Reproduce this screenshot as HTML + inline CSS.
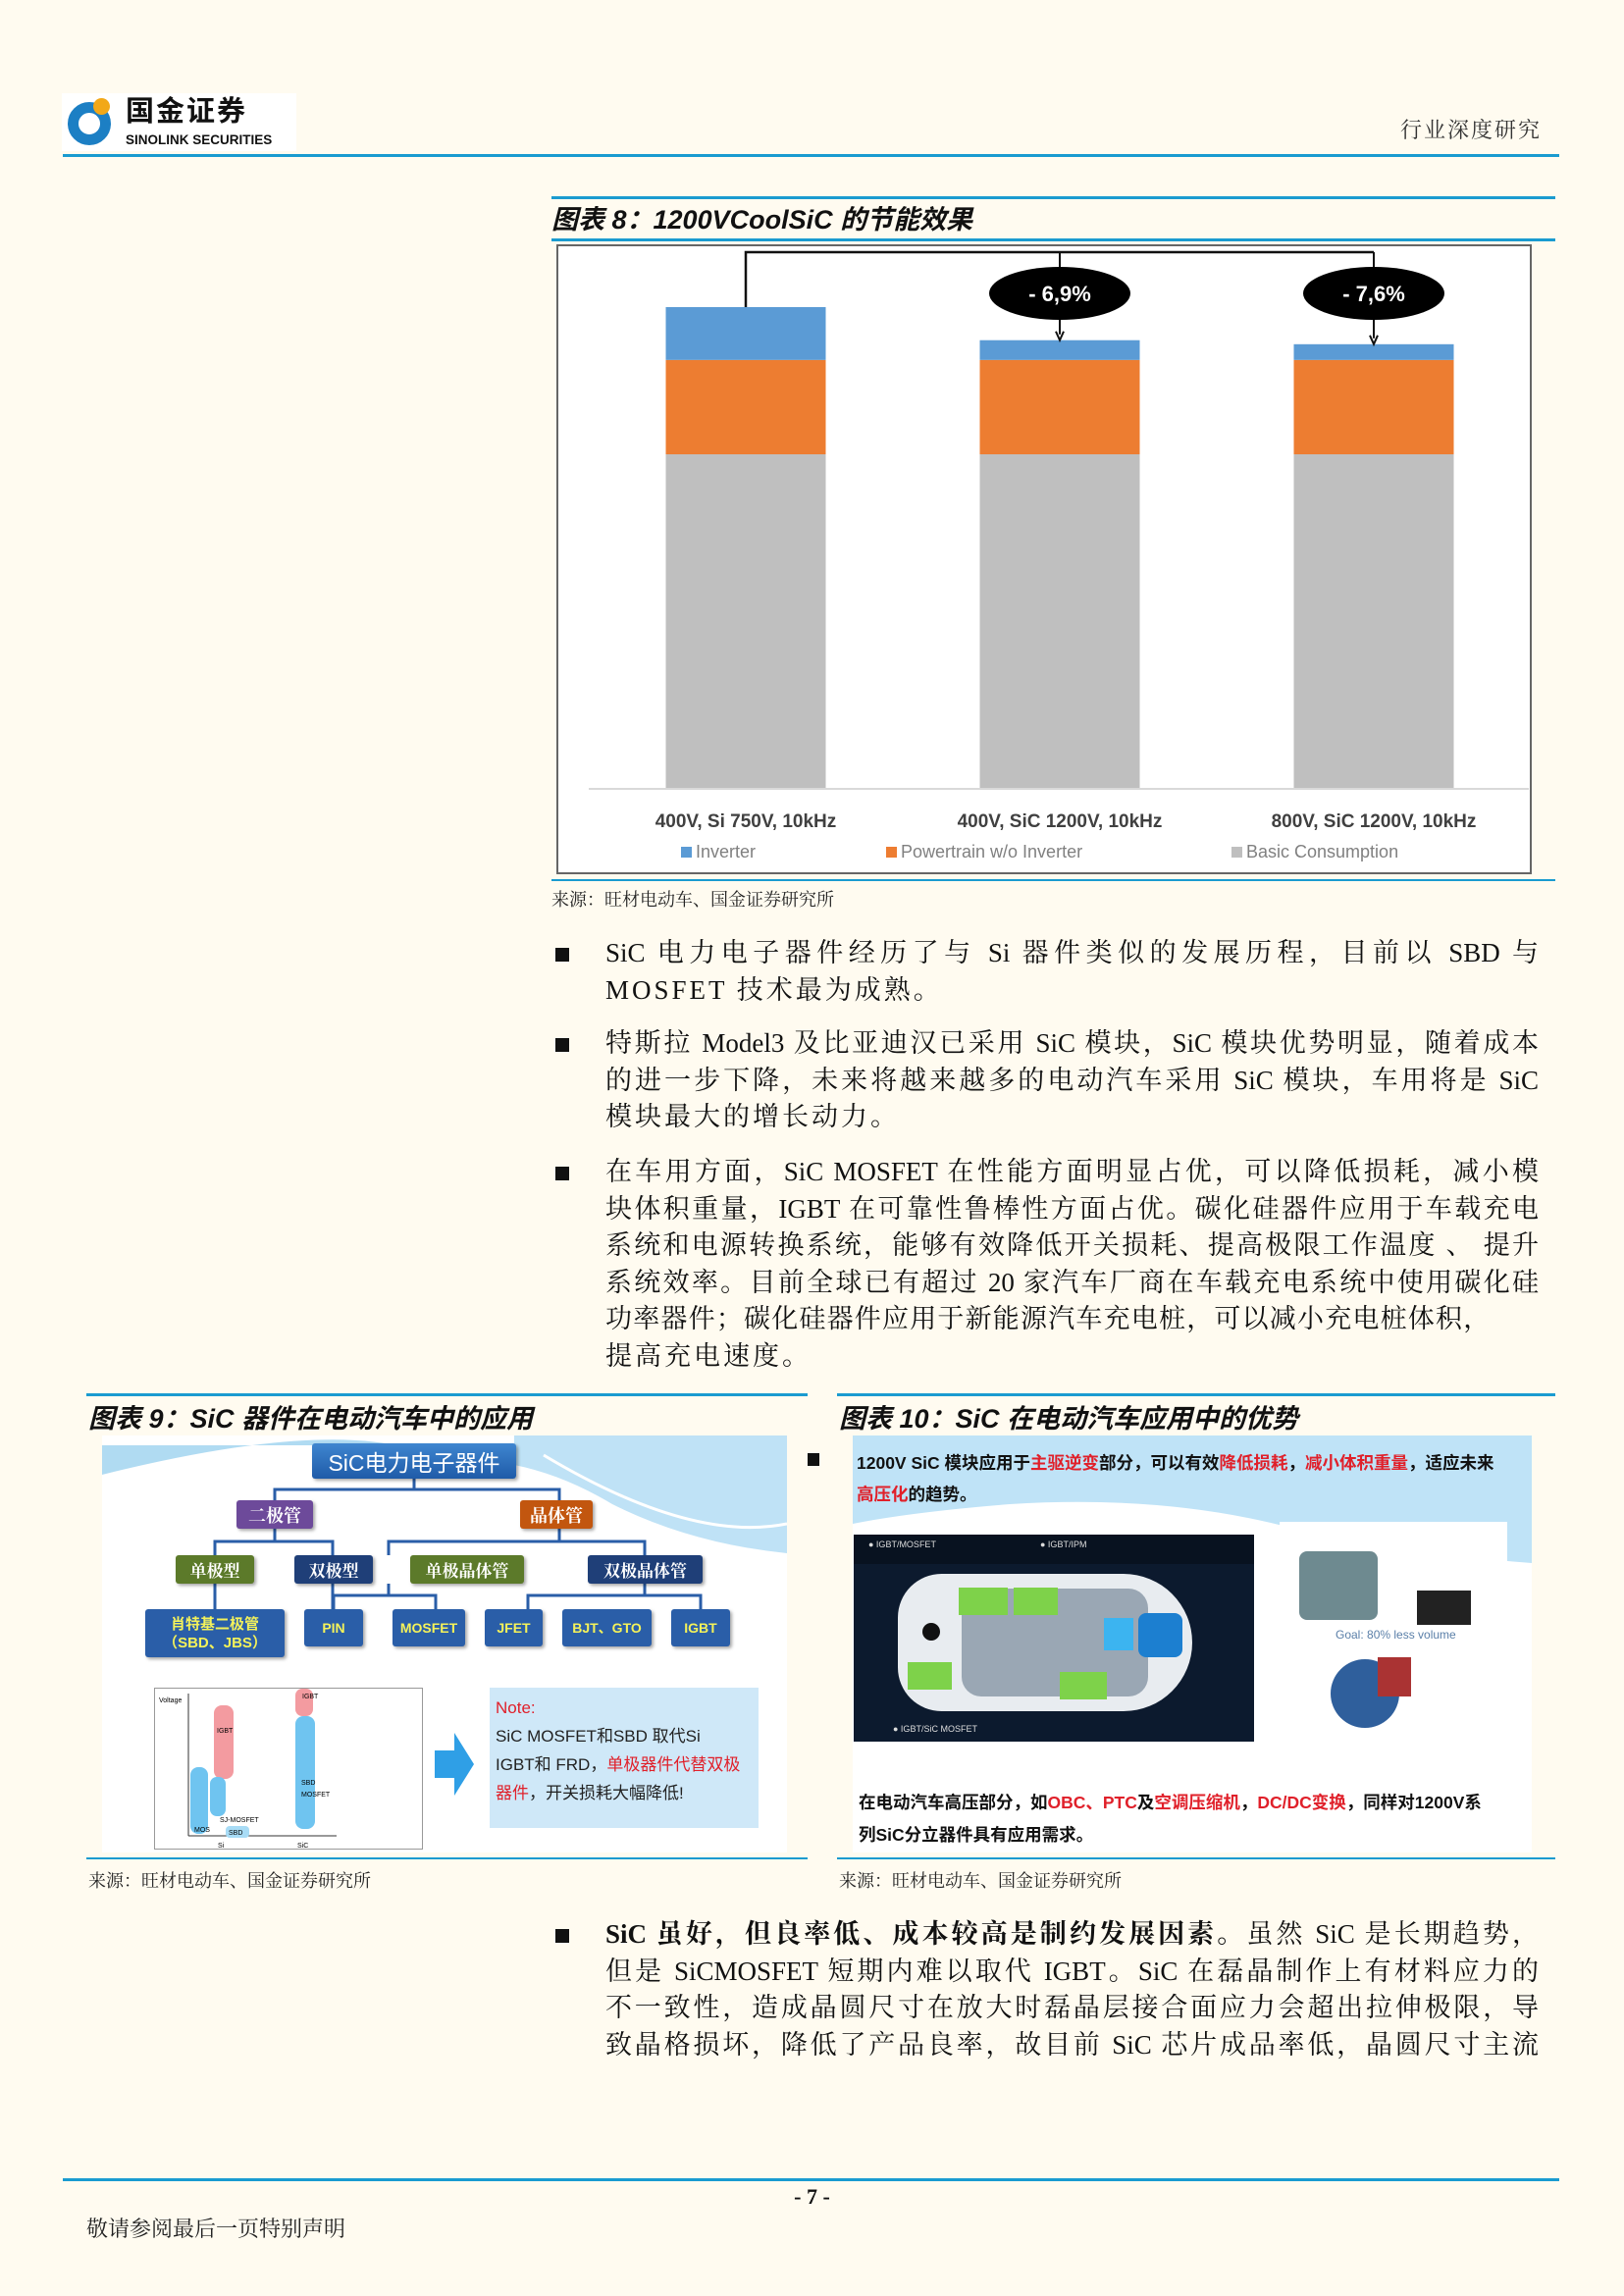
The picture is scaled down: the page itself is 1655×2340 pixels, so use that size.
<!DOCTYPE html>
<html><head><meta charset="utf-8">
<style>
*{margin:0;padding:0;box-sizing:border-box}
body{width:1655px;height:2340px;background:#fffbf0;position:relative;overflow:hidden;font-family:"Liberation Serif","Noto Serif CJK SC",serif;color:#111}
.abs{position:absolute}
.hl{position:absolute;height:3px;background:#1a9bd0}
.ttl{position:absolute;font-family:"Liberation Sans","Noto Sans CJK SC",sans-serif;font-weight:bold;font-style:italic;font-size:27px;color:#111;white-space:nowrap}
.src{position:absolute;font-size:18px;font-family:"Liberation Serif","Noto Serif CJK SC",serif;color:#222;white-space:nowrap}
.para{position:absolute;left:617px;width:951px;font-size:27px;line-height:37.6px}
.para .ln{display:block;height:37.6px;white-space:nowrap;text-align:justify;text-align-last:justify;text-justify:inter-character}
.para .ln.last{text-align:left;text-align-last:left;letter-spacing:3px}
.bul{position:absolute;left:566px;width:14px;height:14px;background:#111}
.box{position:absolute;color:#fff;font-family:"Liberation Sans","Noto Sans CJK SC",sans-serif;font-weight:bold;display:flex;align-items:center;justify-content:center;text-align:center;border-radius:3px;box-shadow:2px 2px 3px rgba(0,0,0,.35)}
</style></head><body>

<div class="abs" style="left:63px;top:95px;width:239px;height:59px;background:#fff">
  <div class="abs" style="left:6px;top:9px;width:44px;height:44px;border-radius:50%;border:11px solid #1c7fc4"></div>
  <div class="abs" style="left:32px;top:5px;width:17px;height:17px;border-radius:50%;background:#f2a818"></div>
  <div class="abs" style="left:65px;top:2px;font-family:'Liberation Sans','Noto Sans CJK SC',sans-serif;font-weight:bold;font-size:29px;letter-spacing:2px;color:#111;line-height:34px">国金证券</div>
  <div class="abs" style="left:65px;top:40px;font-family:'Liberation Sans',sans-serif;font-weight:bold;font-size:13.5px;color:#111;white-space:nowrap">SINOLINK SECURITIES</div>
</div>
<div class="abs" style="right:84px;top:116px;font-size:22px;color:#333;letter-spacing:2px">行业深度研究</div>
<div class="hl" style="left:64px;top:157px;width:1525px"></div>

<!-- Figure 8 -->
<div class="hl" style="left:562px;top:200px;width:1023px"></div>
<div class="ttl" style="left:562px;top:202px">图表 8：1200VCoolSiC 的节能效果</div>
<div class="hl" style="left:562px;top:243px;width:1023px"></div>
<svg class="abs" style="left:0;top:0" width="1655" height="900" id="chart"></svg>
<div class="hl" style="left:562px;top:896px;width:1023px;height:2px"></div>
<div class="src" style="left:562px;top:903px">来源：旺材电动车、国金证券研究所</div>

<!-- paragraphs -->
<div class="bul" style="top:966px"></div>
<div class="para" style="top:953px"><span class="ln">SiC 电力电子器件经历了与 Si 器件类似的发展历程，目前以 SBD 与</span><span class="ln last">MOSFET 技术最为成熟。</span></div>
<div class="bul" style="top:1058px"></div>
<div class="para" style="top:1045px"><span class="ln">特斯拉 Model3 及比亚迪汉已采用 SiC 模块，SiC 模块优势明显，随着成本</span><span class="ln">的进一步下降，未来将越来越多的电动汽车采用 SiC 模块，车用将是 SiC</span><span class="ln last">模块最大的增长动力。</span></div>
<div class="bul" style="top:1189px"></div>
<div class="para" style="top:1176px"><span class="ln">在车用方面，SiC MOSFET 在性能方面明显占优，可以降低损耗，减小模</span><span class="ln">块体积重量，IGBT 在可靠性鲁棒性方面占优。碳化硅器件应用于车载充电</span><span class="ln">系统和电源转换系统，能够有效降低开关损耗、提高极限工作温度 、 提升</span><span class="ln">系统效率。目前全球已有超过 20 家汽车厂商在车载充电系统中使用碳化硅</span><span class="ln last" style="letter-spacing:1.2px">功率器件；碳化硅器件应用于新能源汽车充电桩，可以减小充电桩体积，</span><span class="ln last">提高充电速度。</span></div>

<!-- Figure 9 -->
<div class="hl" style="left:88px;top:1420px;width:735px"></div>
<div class="ttl" style="left:90px;top:1424px">图表 9：SiC 器件在电动汽车中的应用</div>
<div class="abs" style="left:104px;top:1463px;width:698px;height:425px;background:#fff;overflow:hidden">
  <svg class="abs" style="left:0;top:0" width="698" height="425">
    <path d="M0 40 Q200 -10 300 10 L0 10Z" fill="#7cc3ea" opacity=".6"/>
    <path d="M420 0 L698 0 L698 120 Q600 110 520 70 Q470 40 420 30Z" fill="#bfe2f6"/>
    <path d="M450 20 Q600 110 698 90" stroke="#fff" stroke-width="3" fill="none"/>
    <g stroke="#2a5ea8" stroke-width="3" fill="none">
      <path d="M318 44 V55 H176 V66 M318 55 H466 V66"/>
      <path d="M176 95 V108 H115 V122 M176 108 H235 V122"/>
      <path d="M466 95 V108 H292 V122 M466 108 H553 V122"/>
      <path d="M115 151 V177 M235 151 V177 M292 151 V163 H236 V177 M292 163 H340 V177 M553 151 V163 H434 V177 M553 163 H610 V177"/>
    </g>
  </svg>
  <div class="box" style="left:214px;top:8px;width:208px;height:36px;background:linear-gradient(#3f86d0,#1f5ba8);font-size:23px;font-weight:normal">SiC电力电子器件</div>
  <div class="box" style="left:137px;top:66px;width:78px;height:29px;background:#6d4a9a;font-size:18px;font-family:'Noto Serif CJK SC',serif">二极管</div>
  <div class="box" style="left:426px;top:66px;width:74px;height:29px;background:#c2560f;font-size:18px;font-family:'Noto Serif CJK SC',serif">晶体管</div>
  <div class="box" style="left:75px;top:122px;width:80px;height:29px;background:#5c7a2a;font-size:17px;font-family:'Noto Serif CJK SC',serif">单极型</div>
  <div class="box" style="left:196px;top:122px;width:80px;height:29px;background:#1f3f78;font-size:17px;font-family:'Noto Serif CJK SC',serif">双极型</div>
  <div class="box" style="left:314px;top:122px;width:116px;height:29px;background:#5c7a2a;font-size:17px;font-family:'Noto Serif CJK SC',serif">单极晶体管</div>
  <div class="box" style="left:495px;top:122px;width:117px;height:29px;background:#1f3f78;font-size:17px;font-family:'Noto Serif CJK SC',serif">双极晶体管</div>
  <div class="box" style="left:44px;top:177px;width:142px;height:49px;background:#2a5ea8;color:#f4f25a;font-size:15px;line-height:19px">肖特基二极管<br>（SBD、JBS）</div>
  <div class="box" style="left:206px;top:177px;width:60px;height:38px;background:#2a5ea8;color:#f4f25a;font-size:14px">PIN</div>
  <div class="box" style="left:296px;top:177px;width:74px;height:38px;background:#2a5ea8;color:#f4f25a;font-size:14px">MOSFET</div>
  <div class="box" style="left:390px;top:177px;width:59px;height:38px;background:#2a5ea8;color:#f4f25a;font-size:14px">JFET</div>
  <div class="box" style="left:469px;top:177px;width:91px;height:38px;background:#2a5ea8;color:#f4f25a;font-size:14px">BJT、GTO</div>
  <div class="box" style="left:580px;top:177px;width:60px;height:38px;background:#2a5ea8;color:#f4f25a;font-size:14px">IGBT</div>
  <div class="abs" style="left:53px;top:257px;width:274px;height:165px;border:1px solid #999;background:#fff">
    <svg width="274" height="165" style="font-family:'Liberation Sans',sans-serif;font-size:7px">
      <line x1="34" y1="5" x2="34" y2="150" stroke="#333"/><line x1="34" y1="150" x2="185" y2="150" stroke="#333"/>
      <rect x="60" y="17" width="20" height="75" rx="8" fill="#f39ba0"/>
      <rect x="36" y="80" width="18" height="68" rx="8" fill="#6fc4f0"/>
      <rect x="56" y="90" width="16" height="40" rx="7" fill="#6fc4f0"/>
      <rect x="143" y="0" width="18" height="28" rx="7" fill="#f39ba0"/>
      <rect x="143" y="28" width="20" height="115" rx="8" fill="#6fc4f0"/>
      <rect x="72" y="140" width="24" height="12" rx="4" fill="#a8dcf6"/>
      <text x="4" y="14">Voltage</text><text x="63" y="45">IGBT</text><text x="150" y="10">IGBT</text>
      <text x="149" y="98">SBD</text><text x="149" y="110">MOSFET</text><text x="66" y="136">SJ-MOSFET</text>
      <text x="40" y="146">MOS</text><text x="75" y="149">SBD</text><text x="64" y="162">Si</text><text x="145" y="162">SiC</text>
    </svg>
  </div>
  <svg class="abs" style="left:339px;top:303px" width="42" height="65"><path d="M0 18 H20 V0 L40 32 L20 64 V46 H0Z" fill="#2f9fe6"/></svg>
  <div class="abs" style="left:395px;top:257px;width:274px;height:143px;background:#cfe8f8;font-family:'Liberation Sans','Noto Sans CJK SC',sans-serif;font-size:17px;line-height:29px;padding:6px 6px;color:#222">
    <span style="color:#e0202a">Note:</span><br>SiC MOSFET和SBD 取代Si<br>IGBT和 FRD，<span style="color:#e0202a">单极器件代替双极器件</span>，开关损耗大幅降低!
  </div>
</div>
<div class="hl" style="left:88px;top:1893px;width:735px;height:2px"></div>
<div class="src" style="left:90px;top:1903px">来源：旺材电动车、国金证券研究所</div>

<!-- Figure 10 -->
<div class="hl" style="left:853px;top:1420px;width:732px"></div>
<div class="ttl" style="left:855px;top:1424px">图表 10：SiC 在电动汽车应用中的优势</div>
<div class="bul" style="left:823px;top:1481px;width:12px;height:13px"></div>
<div class="abs" style="left:869px;top:1463px;width:692px;height:425px;background:#fff;overflow:hidden">
  <svg class="abs" style="left:0;top:0" width="692" height="425"><path d="M0 0 H692 V130 Q560 120 450 95 Q320 60 160 70 Q60 78 0 90Z" fill="#bfe3f7"/></svg>
  <div class="abs" style="left:4px;top:12px;width:690px;font-family:'Liberation Sans','Noto Sans CJK SC',sans-serif;font-weight:bold;font-size:17.5px;line-height:32px;color:#111">1200V SiC 模块应用于<span style="color:#e0202a">主驱逆变</span>部分，可以有效<span style="color:#e0202a">降低损耗</span>，<span style="color:#e0202a">减小体积重量</span>，适应未来<br><span style="color:#e0202a">高压化</span>的趋势。</div>
  <div class="abs" style="left:1px;top:101px;width:408px;height:211px;background:#0c1a2e;overflow:hidden">
    <div class="abs" style="left:0;top:0;width:408px;height:30px;background:#081220"></div>
    <div class="abs" style="left:45px;top:40px;width:300px;height:140px;border-radius:70px 110px 110px 70px;background:#e8ecf0"></div>
    <div class="abs" style="left:110px;top:55px;width:190px;height:110px;border-radius:20px;background:#9aa7b4"></div>
    <div class="abs" style="left:107px;top:54px;width:50px;height:28px;background:#7ed24a"></div>
    <div class="abs" style="left:163px;top:54px;width:45px;height:28px;background:#7ed24a"></div>
    <div class="abs" style="left:55px;top:130px;width:45px;height:28px;background:#7ed24a"></div>
    <div class="abs" style="left:210px;top:140px;width:48px;height:28px;background:#7ed24a"></div>
    <div class="abs" style="left:255px;top:85px;width:30px;height:33px;background:#3cb4f0"></div>
    <div class="abs" style="left:290px;top:80px;width:45px;height:45px;border-radius:8px;background:#1c7fd0"></div>
    <div class="abs" style="left:70px;top:90px;width:18px;height:18px;border-radius:50%;background:#111"></div>
    <div class="abs" style="left:15px;top:5px;color:#ddd;font-size:9px;font-family:'Liberation Sans',sans-serif">● IGBT/MOSFET</div>
    <div class="abs" style="left:190px;top:5px;color:#ddd;font-size:9px;font-family:'Liberation Sans',sans-serif">● IGBT/IPM</div>
    <div class="abs" style="left:40px;top:193px;color:#ddd;font-size:9px;font-family:'Liberation Sans',sans-serif">● IGBT/SiC MOSFET</div>
  </div>
  <div class="abs" style="left:435px;top:88px;width:232px;height:220px;background:#fff">
    <div class="abs" style="left:20px;top:30px;width:80px;height:70px;background:#6e8a90;border-radius:8px"></div>
    <div class="abs" style="left:140px;top:70px;width:55px;height:35px;background:#222"></div>
    <div class="abs" style="left:57px;top:108px;color:#5a7fa8;font-size:12px;font-family:'Liberation Sans',sans-serif">Goal: 80% less volume</div>
    <div class="abs" style="left:52px;top:140px;width:70px;height:70px;border-radius:50%;background:#2f5f9c"></div>
    <div class="abs" style="left:100px;top:138px;width:34px;height:40px;background:#a33"></div>
  </div>
  <div class="abs" style="left:6px;top:358px;width:690px;font-family:'Liberation Sans','Noto Sans CJK SC',sans-serif;font-weight:bold;font-size:17.5px;line-height:33px;color:#111">在电动汽车高压部分，如<span style="color:#e0202a">OBC、PTC</span>及<span style="color:#e0202a">空调压缩机</span>，<span style="color:#e0202a">DC/DC变换</span>，同样对1200V系<br>列SiC分立器件具有应用需求。</div>
</div>
<div class="hl" style="left:853px;top:1893px;width:732px;height:2px"></div>
<div class="src" style="left:855px;top:1903px">来源：旺材电动车、国金证券研究所</div>

<!-- last paragraph -->
<div class="bul" style="top:1966px"></div>
<div class="para" style="top:1953px"><span class="ln"><b>SiC 虽好，但良率低、成本较高是制约发展因素。</b>虽然 SiC 是长期趋势，</span><span class="ln">但是 SiCMOSFET 短期内难以取代 IGBT。SiC 在磊晶制作上有材料应力的</span><span class="ln">不一致性，造成晶圆尺寸在放大时磊晶层接合面应力会超出拉伸极限，导</span><span class="ln">致晶格损坏，降低了产品良率，故目前 SiC 芯片成品率低，晶圆尺寸主流</span></div>

<div class="hl" style="left:64px;top:2220px;width:1525px"></div>
<div class="abs" style="left:0;width:1655px;top:2226px;text-align:center;font-size:22px;font-weight:bold">- 7 -</div>
<div class="abs" style="left:88px;top:2255px;font-size:22px;color:#222">敬请参阅最后一页特别声明</div>

<script>
const categories=["400V, Si 750V, 10kHz","400V, SiC 1200V, 10kHz","800V, SiC 1200V, 10kHz"];
const basicValues=[100,100,100];
const powertrainValues=[28.2,28.2,28.2];
const inverterValues=[15.8,5.9,4.7];
const savingLabels=["","- 6,9%","- 7,6%"];
const seriesNames=["Inverter","Powertrain w/o Inverter","Basic Consumption"];
(function(){
const NS="http://www.w3.org/2000/svg",svg=document.getElementById('chart');
function mk(t,a,p){const e=document.createElementNS(NS,t);for(const k in a)e.setAttribute(k,a[k]);(p||svg).appendChild(e);return e;}
const baseY=804,pxPer=3.41,x0=600,step=320,bw=163;
const xc=i=>x0+160+i*step;
const y=v=>baseY-v*pxPer;
const frame=mk('rect',{x:568,y:250,width:992,height:640,fill:'#fff',stroke:'#666','stroke-width':2});


const colors=['#5b9bd5','#ed7d31','#bfbfbf'];
const tops=[];
categories.forEach((c,i)=>{
  const b=basicValues[i],p=powertrainValues[i],inv=inverterValues[i];
  const segs=[[0,b,colors[2],'basic'],[b,b+p,colors[1],'powertrain'],[b+p,b+p+inv,colors[0],'inverter']];
  segs.forEach(s=>{const r=mk('rect',{x:xc(i)-bw/2,y:y(s[1]),width:bw,height:y(s[0])-y(s[1]),fill:s[2]});
    
    });
  tops.push(y(b+p+inv));
  const t=mk('text',{x:xc(i),y:843,'text-anchor':'middle','font-family':'Liberation Sans,sans-serif','font-weight':'bold','font-size':19,fill:'#404040'});
  t.textContent=c;
  
  
});
const ax=mk('line',{x1:600,y1:baseY,x2:1558,y2:baseY,stroke:'#d9d9d9','stroke-width':2});


const topY=257;
const conn=mk('path',{d:`M${xc(0)} ${tops[0]} V${topY} H${xc(2)}`,stroke:'#111','stroke-width':2.5,fill:'none'});


for(let i=1;i<categories.length;i++){
  const l=mk('path',{d:`M${xc(i)} ${topY} V${tops[i]-6} M${xc(i)-4} ${tops[i]-9} L${xc(i)} ${tops[i]} L${xc(i)+4} ${tops[i]-9}`,stroke:'#111','stroke-width':2,fill:'none'});
  
  
  const e=mk('ellipse',{cx:xc(i),cy:299,rx:72,ry:27,fill:'#000'});
  
  
  const t=mk('text',{x:xc(i),y:307,'text-anchor':'middle','font-family':'Liberation Sans,sans-serif','font-weight':'bold','font-size':22,fill:'#fff'});
  t.textContent=savingLabels[i];
  
  
}
const lx=[694,903,1255];
seriesNames.forEach((n,k)=>{
  const r=mk('rect',{x:lx[k],y:863,width:11,height:11,fill:colors[k]});
  
  
  const t=mk('text',{x:lx[k]+15,y:874,'font-family':'Liberation Sans,sans-serif','font-size':18,fill:'#808080'});
  t.textContent=n;
  
  
});
})();
</script>
</body></html>
